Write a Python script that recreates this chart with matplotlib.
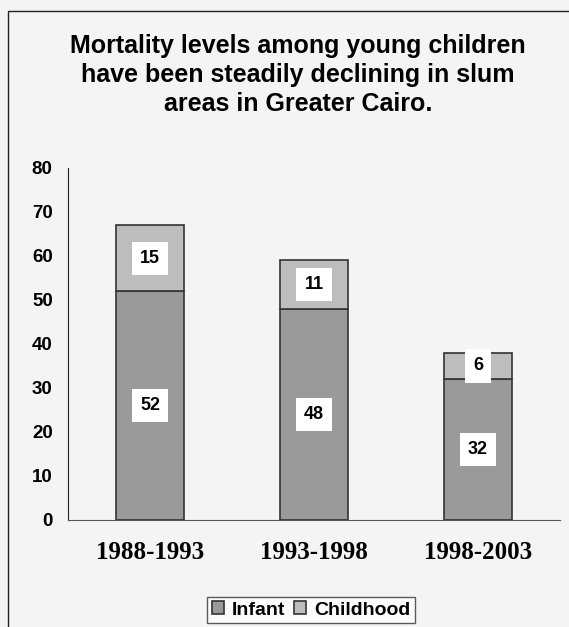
import numpy as np
import matplotlib.pyplot as plt
from matplotlib.patches import Rectangle

periods = ['1988-1993', '1993-1998', '1998-2003']
infant = [52, 48, 32]
childhood = [15, 11, 6]
y_ticks = [0, 10, 20, 30, 40, 50, 60, 70, 80]

bg = '#f4f4f4'
infant_color = '#9a9a9a'
child_color = '#bdbdbd'

fig = plt.figure(figsize=(5.69, 6.27), dpi=100, facecolor=bg)

# outer chart frame
fig.patches.append(Rectangle((8 / 569, -0.01), 1.0, 1 - 11 / 627 + 0.01,
                             transform=fig.transFigure, fill=False,
                             edgecolor='#222222', linewidth=1.0))

fig.text(298 / 569, 1 - 75 / 627, 'Mortality levels among young children\n'
         'have been steadily declining in slum\nareas in Greater Cairo.',
         ha='center', va='center', fontsize=18, fontweight='bold',
         family='Liberation Sans', linespacing=1.27)

ax = fig.add_axes([68 / 569, 1 - 520 / 627, (560 - 68) / 569, (520 - 168) / 627])
ax.set_facecolor(bg)

x = np.arange(len(periods))
w = 0.41
b1 = ax.bar(x, infant, w, color=infant_color, edgecolor='#333333',
            linewidth=1.2, label='Infant')
b2 = ax.bar(x, childhood, w, bottom=infant, color=child_color,
            edgecolor='#333333', linewidth=1.2, label='Childhood')

box = dict(boxstyle='square,pad=0.45', facecolor='white', edgecolor='none')
for i in range(len(periods)):
    ax.text(x[i], infant[i] / 2, str(infant[i]), ha='center', va='center',
            fontsize=13, fontweight='bold', family='Liberation Sans', bbox=box)
    ax.text(x[i], infant[i] + childhood[i] / 2, str(childhood[i]),
            ha='center', va='center', fontsize=13, fontweight='bold',
            family='Liberation Sans', bbox=box, zorder=5)

ax.set_xlim(-0.5, 2.5)
ax.set_ylim(0, 80)
ax.set_yticks(y_ticks)
ax.set_yticklabels([str(t) for t in y_ticks], fontsize=13.5, fontweight='bold',
                   family='Liberation Sans')
ax.set_xticks(x)
ax.set_xticklabels(periods, fontsize=18, fontweight='bold',
                   family='Liberation Serif')
ax.tick_params(axis='both', length=0)
ax.tick_params(axis='y', pad=11)
ax.tick_params(axis='x', pad=15)
for s in ['top', 'right']:
    ax.spines[s].set_visible(False)
ax.spines['left'].set_color('#222222')
ax.spines['bottom'].set_color('#555555')

leg = fig.legend(handles=[b1, b2], labels=['Infant', 'Childhood'],
                 loc='center', bbox_to_anchor=(311 / 569, 1 - 610 / 627), ncol=2,
                 frameon=True, fancybox=False, handlelength=0.6,
                 handleheight=0.6, handletextpad=0.4, columnspacing=0.5,
                 borderpad=0.25, prop={'family': 'Liberation Sans',
                                       'weight': 'bold', 'size': 14})
leg.get_frame().set_edgecolor('#333333')
leg.get_frame().set_facecolor('white')
leg.get_frame().set_linewidth(1.0)

fig.savefig('out.png', dpi=100, facecolor=bg)
